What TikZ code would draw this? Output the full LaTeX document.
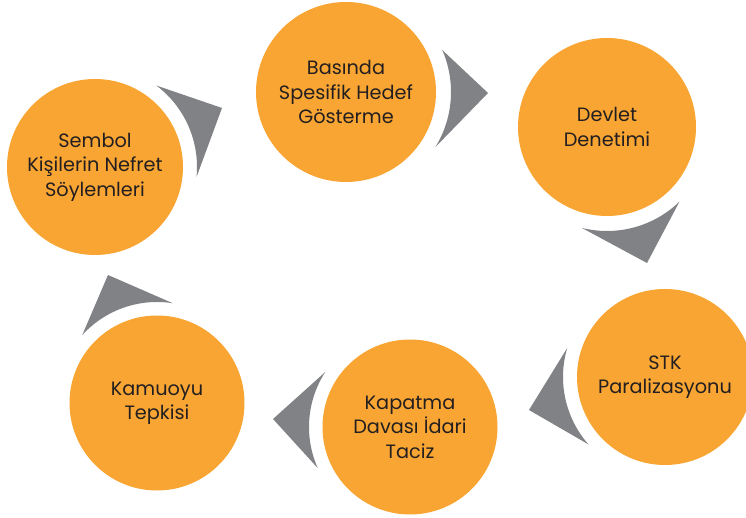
\documentclass[tikz,border=0pt]{standalone}
\usepackage{fontspec}
\setmainfont{Poppins}
\usetikzlibrary{calc}
\definecolor{orng}{HTML}{F9A533}
\definecolor{gry}{HTML}{808285}
\definecolor{txt}{HTML}{231F20}
\begin{document}
\begin{tikzpicture}[x=1pt,y=1pt,
  stage/.style={circle, fill=orng, minimum size=#1, inner sep=0pt, align=center,
    text=txt, font=\fontsize{19.3}{24.4}\selectfont},
  chev/.style={fill=gry}]
\useasboundingbox (0,0) rectangle (746,518);
\clip (0,0) rectangle (746,518);
% stages
\node[stage=176pt] (S) at (95,351) {Sembol\\Kişilerin Nefret\\Söylemleri};
\node[stage=180pt] (B) at (346,426) {Basında\\Spesifik Hedef\\Gösterme};
\node[stage=178pt] (D) at (607,391) {Devlet\\Denetimi};
\node[stage=176pt] (K) at (665,141) {STK\\Paralizasyonu};
\node[stage=175pt] (P) at (410,91) {Kapatma\\Davası İdari\\Taciz};
\node[stage=175pt] (M) at (157,115) {Kamuoyu\\Tepkisi};
% arrow tips
\coordinate (t1) at (222,410);
\coordinate (t2) at (488,425);
\coordinate (t3) at (647,255);
\coordinate (t4) at (529,108);
\coordinate (t5) at (273,99);
\coordinate (t6) at (108,243);
% chevrons
\fill[chev] ($(S)+(53:102)$) -- (t1) -- ($(S)+(-5.7:102)$) arc[start angle=-5.7, end angle=53, radius=102] -- cycle;
\fill[chev] ($(B)+(23.6:105)$) -- (t2) -- ($(B)+(-31.7:105)$) arc[start angle=-31.7, end angle=23.6, radius=105] -- cycle;
\fill[chev] ($(D)+(-45.8:104)$) -- (t3) -- ($(D)+(-104:104)$) arc[start angle=-104, end angle=-45.8, radius=104] -- cycle;
\fill[chev] ($(K)+(221.4:102)$) -- (t4) -- ($(K)+(163.5:102)$) arc[start angle=163.5, end angle=221.4, radius=102] -- cycle;
\fill[chev] ($(P)+(204:101)$) -- (t5) -- ($(P)+(147:101)$) arc[start angle=147, end angle=204, radius=101] -- cycle;
\fill[chev] ($(M)+(137.8:101)$) -- (t6) -- ($(M)+(81:101)$) arc[start angle=81, end angle=137.8, radius=101] -- cycle;
\end{tikzpicture}
\end{document}
